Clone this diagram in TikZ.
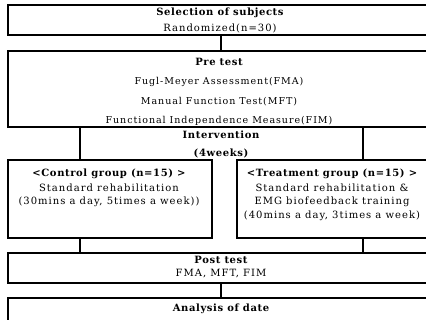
\documentclass[tikz,border=0pt]{standalone}
\usepackage{fontspec}
\setmainfont[LetterSpace=10,BoldFeatures={LetterSpace=6}]{DejaVu Serif}
\usetikzlibrary{positioning}

\begin{document}
\begin{tikzpicture}[x=1pt,y=-1pt,line width=1.4pt,
  box/.style={draw,rectangle,inner sep=0pt,minimum height=#1},
  lbl/.style={font=\fontsize{10}{12}\selectfont,inner sep=0pt},
  sm/.style={font=\fontsize{9.5}{12}\selectfont,inner sep=0pt},
  hd/.style={font=\fontsize{10}{12}\selectfont\bfseries,inner sep=0pt}]

  \useasboundingbox (0,0) rectangle (426,320);
  \clip (0,0) rectangle (426,320);

  % boxes
  \draw (221,20) node[box=30,minimum width=426] (sel) {};
  \draw (221,89) node[box=76,minimum width=426] (pre) {};
  \draw (110,199) node[box=78,minimum width=204] (ctrl) {};
  \draw (335.5,199) node[box=78,minimum width=197] (trt) {};
  \draw (221,268) node[box=30,minimum width=426] (post) {};
  \draw (221,316) node[box=36,minimum width=426] (ana) {};

  \coordinate (lft) at (80,0);
  \coordinate (rgt) at (363,0);

  \draw (sel.south) -- (pre.north);
  \draw (pre.south -| lft) -- (ctrl.north -| lft);
  \draw (pre.south -| rgt) -- (trt.north -| rgt);
  \draw (ctrl.south -| lft) -- (post.north -| lft);
  \draw (trt.south -| rgt) -- (post.north -| rgt);
  \draw (post.south) -- (ana.north);

  % texts
  \draw (220,13) node[hd] (selhd) {Selection of subjects}
  ++(0,15) node[lbl] (selsub) {Randomized(n=30)};

  \draw (219,62) node[hd] (prehd) {Pre test}
  ++(0,20) node[sm] (fma) {Fugl-Meyer Assessment(FMA)}
  ++(0,20) node[sm] (mft) {Manual Function Test(MFT)}
  ++(0,19) node[sm] (fim) {Functional Independence Measure(FIM)};

  \draw (221,135) node[hd] (inthd) {Intervention}
  ++(0,18) node[hd] (intwk) {(4weeks)};

  \draw (109,174) node[hd] (ctrlhd) {<Control group (n=15) >}
  ++(0,14) node[lbl] (ctrla) {Standard rehabilitation}
  ++(0,14) node[lbl] (ctrlb) {(30mins a day, 5times a week))};

  \draw (332,174) node[hd] (trthd) {<Treatment group (n=15) >}
  ++(0,14) node[lbl] (trta) {Standard rehabilitation \&}
  ++(0,14) node[lbl] (trtb) {EMG biofeedback training}
  ++(0,14) node[lbl] (trtc) {(40mins a day, 3times a week)};

  \draw (221,260) node[hd] (posthd) {Post test}
  ++(0,14) node[lbl] (postsub) {FMA, MFT, FIM};

  \draw (221,309) node[hd] (anahd) {Analysis of date};

\end{tikzpicture}
\end{document}
